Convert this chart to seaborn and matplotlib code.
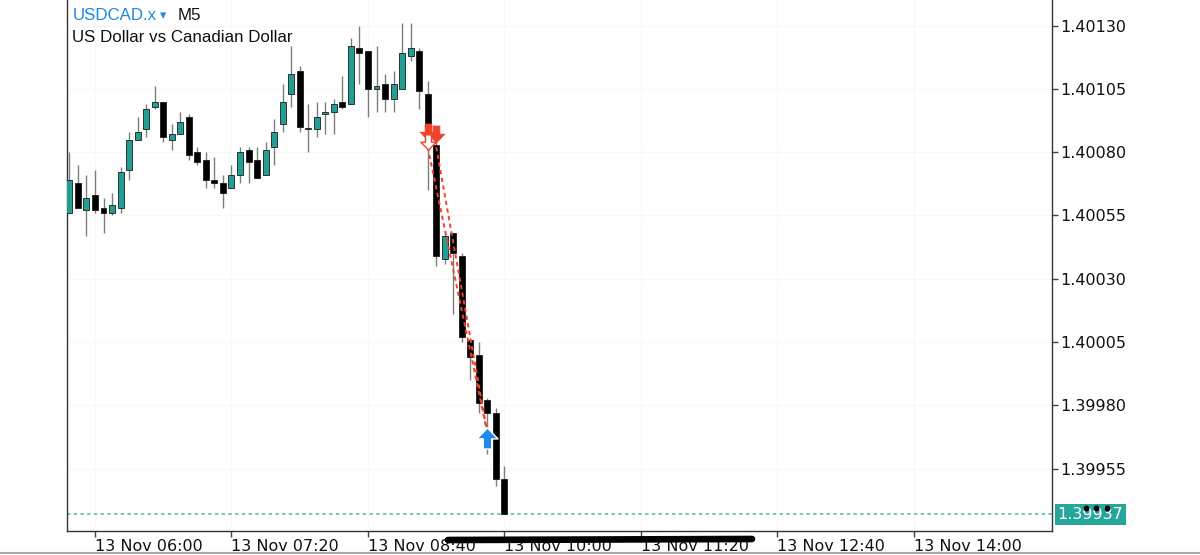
import numpy as np
import pandas as pd
import matplotlib
matplotlib.use('Agg')
import matplotlib.pyplot as plt
from matplotlib.path import Path
from matplotlib.lines import Line2D
from matplotlib.transforms import ScaledTranslation
import seaborn as sns

# Chart header
symbol = 'USDCAD.x'
timeframe = 'M5'
description = 'US Dollar vs Canadian Dollar'

# M5 candles starting at 05:45
start_time = '2024-11-13 05:45'
opens = [1.40056, 1.40068, 1.40057, 1.40063, 1.40058, 1.40056, 1.40058, 1.40073, 1.40085, 1.40089,
         1.40098, 1.40100, 1.40085, 1.40087, 1.40094, 1.40080, 1.40077, 1.40069, 1.40068, 1.40066,
         1.40071, 1.40081, 1.40077, 1.40071, 1.40082, 1.40091, 1.40103, 1.40112, 1.40089, 1.40089,
         1.40095, 1.40096, 1.40100, 1.40099, 1.40121, 1.40120, 1.40105, 1.40107, 1.40101, 1.40105,
         1.40118, 1.40120, 1.40103, 1.40083, 1.40038, 1.40048, 1.40039, 1.40006, 1.40000, 1.39982,
         1.39977, 1.39951]
closes = [1.40069, 1.40058, 1.40062, 1.40057, 1.40056, 1.40059, 1.40072, 1.40085, 1.40088, 1.40097,
          1.40100, 1.40086, 1.40087, 1.40092, 1.40079, 1.40076, 1.40069, 1.40068, 1.40064, 1.40071,
          1.40080, 1.40076, 1.40070, 1.40081, 1.40088, 1.40100, 1.40111, 1.40090, 1.40089, 1.40094,
          1.40096, 1.40099, 1.40098, 1.40122, 1.40119, 1.40105, 1.40106, 1.40101, 1.40107, 1.40119,
          1.40121, 1.40104, 1.40090, 1.40039, 1.40047, 1.40040, 1.40007, 1.39999, 1.39981, 1.39977,
          1.39951, 1.39937]
highs = [1.40080, 1.40075, 1.40071, 1.40073, 1.40062, 1.40064, 1.40074, 1.40088, 1.40094, 1.40099,
         1.40106, 1.40100, 1.40091, 1.40096, 1.40095, 1.40082, 1.40080, 1.40078, 1.40071, 1.40075,
         1.40082, 1.40082, 1.40082, 1.40084, 1.40093, 1.40107, 1.40122, 1.40114, 1.40099, 1.40100,
         1.40100, 1.40101, 1.40110, 1.40125, 1.40130, 1.40120, 1.40122, 1.40111, 1.40112, 1.40131,
         1.40131, 1.40121, 1.40108, 1.40085, 1.40048, 1.40048, 1.40040, 1.40006, 1.40005, 1.39983,
         1.39979, 1.39956]
lows = [1.40056, 1.40058, 1.40047, 1.40056, 1.40048, 1.40055, 1.40056, 1.40069, 1.40085, 1.40086,
        1.40097, 1.40084, 1.40081, 1.40087, 1.40077, 1.40075, 1.40066, 1.40066, 1.40058, 1.40066,
        1.40068, 1.40068, 1.40070, 1.40071, 1.40075, 1.40088, 1.40098, 1.40088, 1.40080, 1.40086,
        1.40087, 1.40087, 1.40097, 1.40099, 1.40107, 1.40094, 1.40096, 1.40096, 1.40096, 1.40105,
        1.40116, 1.40097, 1.40065, 1.40035, 1.40036, 1.40016, 1.40005, 1.39990, 1.39977, 1.39961,
        1.39948, 1.39937]
last_price = 1.39937

# trade signals (candle index, price)
sell_idx = [42, 43]
sell_price = [1.40088, 1.40087]
sell_close_idx = [42]
sell_close_price = [1.40084]
buy_idx = [49]
buy_price = [1.39967]
trade_from_idx = [42, 43]
trade_from_price = [1.40082, 1.40082]
trade_to_idx = [49, 49]
trade_to_price = [1.39969, 1.39969]

# axis ticks
y_ticks = [1.39955, 1.39980, 1.40005, 1.40030, 1.40055, 1.40080, 1.40105, 1.40130]
x_tick_times = ['2024-11-13 06:00', '2024-11-13 07:20', '2024-11-13 08:40', '2024-11-13 10:00',
                '2024-11-13 11:20', '2024-11-13 12:40', '2024-11-13 14:00']

TEAL = '#239e92'
RED = '#f0432c'
BLUE = '#2189f0'

df = pd.DataFrame({'open': opens, 'high': highs, 'low': lows, 'close': closes})
df['time'] = pd.date_range(start_time, periods=len(df), freq='5min')
df['i'] = np.arange(len(df))
df['up'] = df['close'] >= df['open']
df['bottom'] = df[['open', 'close']].min(axis=1)
df['height'] = (df['close'] - df['open']).abs().clip(lower=0.000004)

sns.set_theme(style='white')
plt.rcParams['font.family'] = ['DejaVu Sans']

fig = plt.figure(figsize=(12, 5.55), dpi=100)
ax = fig.add_axes([67 / 1200, 1 - 531 / 555, (1052 - 67) / 1200, 531 / 555])

# very faint grid
for t in y_ticks:
    ax.axhline(t, color='#f8f8f8', lw=0.8, zorder=0)

# wicks and bodies
ax.vlines(df['i'], df['low'], df['high'], color='#7d7d7d', lw=1, zorder=2)
colors = np.where(df['up'], TEAL, '#000000')
ax.bar(df['i'], df['height'], bottom=df['bottom'], width=0.7, color=colors,
       edgecolor='#1a1a1a', linewidth=0.6, zorder=3)

# last price line
ax.axhline(last_price, color='#4db6ac', lw=1.1, ls=(0, (2.2, 2.2)), zorder=1)

# dashed trade lines
for x0, y0, x1, y1 in zip(trade_from_idx, trade_from_price, trade_to_idx, trade_to_price):
    sns.lineplot(x=[x0, x1], y=[y0, y1], ax=ax, color=RED, lw=1.4, sort=False,
                 estimator=None, linestyle=(0, (2.2, 1.8)), zorder=4)

# block arrow markers
down_arrow = Path([(-0.2, 0.5), (0.2, 0.5), (0.2, 0.02), (0.5, 0.02), (0, -0.5),
                   (-0.5, 0.02), (-0.2, 0.02), (-0.2, 0.5)],
                  [Path.MOVETO] + [Path.LINETO] * 6 + [Path.CLOSEPOLY])
up_arrow = Path([(x, -y) for x, y in down_arrow.vertices], down_arrow.codes)

sns.scatterplot(x=sell_idx, y=sell_price, marker=down_arrow, s=150, color=RED,
                edgecolor=RED, linewidth=0.5, ax=ax, zorder=6)
sns.scatterplot(x=sell_close_idx, y=sell_close_price, marker=down_arrow, s=120, color='white',
                edgecolor=RED, linewidth=1.0, ax=ax, zorder=7)
sns.scatterplot(x=buy_idx, y=buy_price, marker=up_arrow, s=230, color=BLUE,
                edgecolor='white', linewidth=1.0, ax=ax, zorder=6)

# axes limits and ticks
ax.set_xlim(-0.28, 115.18)
ax.set_ylim(1.399304, 1.401401)

all_times = pd.date_range(start_time, periods=120, freq='5min')
tick_times = pd.to_datetime(x_tick_times)
x_ticks = [int((t - all_times[0]) / pd.Timedelta('5min')) for t in tick_times]
ax.set_xticks(x_ticks)
ax.set_xticklabels([t.strftime('%d %b %H:%M') for t in tick_times], ha='left')
for lab in ax.get_xticklabels():
    lab.set_transform(lab.get_transform() + ScaledTranslation(3 / 100, 0, fig.dpi_scale_trans))
for t in x_ticks:
    ax.axvline(t, color='#f8f8f8', lw=0.8, zorder=0)

ax.yaxis.tick_right()
ax.set_yticks(y_ticks)
ax.set_yticklabels([f'{v:.5f}' for v in y_ticks])

ax.tick_params(axis='x', bottom=True, length=4, width=1, color='#444444', pad=2,
               labelsize=11.5, labelcolor='#111111')
ax.tick_params(axis='y', right=True, left=False, length=4, width=1, color='#444444', pad=2,
               labelsize=11.5, labelcolor='#111111')
ax.set_xlabel('')
ax.set_ylabel('')

for side in ['left', 'bottom', 'right']:
    ax.spines[side].set_visible(True)
    ax.spines[side].set_color('#333333')
    ax.spines[side].set_linewidth(1.0)
ax.spines['top'].set_visible(False)

# last price tag
ax.annotate(f'{last_price:.5f}', xy=(1, last_price), xycoords=('axes fraction', 'data'),
            xytext=(4, 0), textcoords='offset points', va='center', ha='left',
            fontsize=11.5, color='white',
            bbox=dict(boxstyle='square,pad=0.18', fc='#26a69a', ec='none'))

# header
head_font = ['Liberation Sans', 'DejaVu Sans']
fig.text(73 / 1200, 1 - 15 / 555, symbol, color='#1e88e5', fontsize=12.2,
         family=head_font, va='center', ha='left')
fig.text(160 / 1200, 1 - 16 / 555, '\u25be', color='#1e88e5', fontsize=9,
         family=['DejaVu Sans'], va='center', ha='left')
fig.text(178 / 1200, 1 - 15 / 555, timeframe, color='#111111', fontsize=12.2,
         family=head_font, va='center', ha='left')
fig.text(72 / 1200, 1 - 38 / 555, description, color='#111111', fontsize=12.2,
         family=head_font, va='center', ha='left')

# screenshot overlays: scribble over the time labels, dots on the price tag, bottom edge
fig.add_artist(Line2D([448 / 1200, 752 / 1200], [1 - 540 / 555, 1 - 539 / 555],
                      transform=fig.transFigure, color='black', lw=4.8,
                      solid_capstyle='round', zorder=10))
fig.add_artist(Line2D([1086 / 1200, 1096 / 1200, 1107 / 1200], [1 - 508 / 555] * 3,
                      transform=fig.transFigure, ls='none', marker='o', ms=3.2,
                      color='black', zorder=10))
fig.add_artist(Line2D([0, 1], [1 - 552.5 / 555] * 2, transform=fig.transFigure,
                      color='#a9a9a9', lw=1.5, zorder=10))

fig.savefig('out.png', dpi=100, facecolor='white')
